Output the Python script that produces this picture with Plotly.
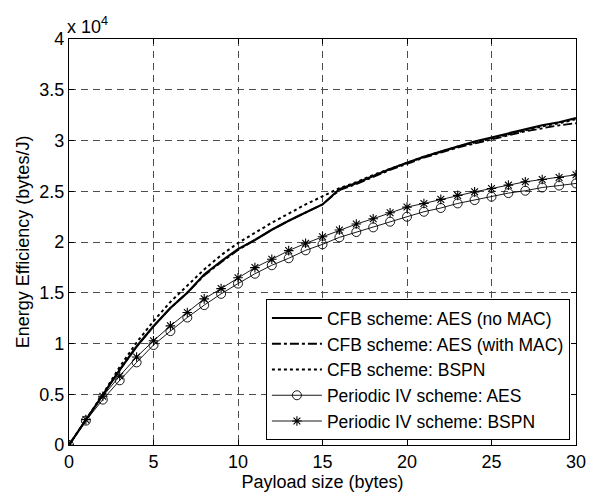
import plotly.graph_objects as go

# Payload sizes (bytes)
payload = list(range(0, 31))

# Energy efficiency, in units of 1e4 bytes/J
cfb_aes_nomac = [0, 0.25, 0.49, 0.74, 0.97, 1.17, 1.35, 1.50, 1.68, 1.81, 1.93,
                 2.02, 2.12, 2.21, 2.29, 2.37, 2.52, 2.58, 2.65, 2.72, 2.78,
                 2.84, 2.89, 2.94, 2.99, 3.03, 3.07, 3.11, 3.15, 3.18, 3.22]
cfb_aes_mac = [0, 0.25, 0.49, 0.74, 0.97, 1.17, 1.35, 1.50, 1.67, 1.80, 1.92,
               2.02, 2.12, 2.21, 2.29, 2.37, 2.51, 2.57, 2.64, 2.71, 2.77,
               2.83, 2.88, 2.93, 2.97, 3.01, 3.05, 3.09, 3.12, 3.15, 3.17]
cfb_bspn = [0, 0.25, 0.50, 0.77, 1.01, 1.22, 1.41, 1.57, 1.73, 1.87, 1.99,
            2.09, 2.19, 2.28, 2.37, 2.45, 2.53, 2.59, 2.66, 2.72, 2.78,
            2.84, 2.89, 2.94, 2.98, 3.02, 3.06, 3.10, 3.14, 3.17, 3.21]
piv_aes = [0, 0.24, 0.447, 0.637, 0.814, 0.985, 1.122, 1.256, 1.378, 1.489, 1.59,
           1.687, 1.771, 1.84, 1.918, 1.977, 2.046, 2.098, 2.144, 2.2, 2.249,
           2.298, 2.335, 2.38, 2.413, 2.446, 2.482, 2.505, 2.537, 2.556, 2.577]
piv_bspn = [0, 0.25, 0.48, 0.68, 0.867, 1.027, 1.174, 1.305, 1.44, 1.541, 1.648,
            1.748, 1.83, 1.915, 1.987, 2.052, 2.118, 2.177, 2.229, 2.288, 2.344,
            2.38, 2.42, 2.459, 2.494, 2.527, 2.56, 2.593, 2.616, 2.636, 2.662]

x_ticks = [0, 5, 10, 15, 20, 25, 30]
y_ticks = [0, 0.5, 1, 1.5, 2, 2.5, 3, 3.5, 4]
y_tick_text = ["0", "0.5", "1", "1.5", "2", "2.5", "3", "3.5", "4"]

FONT = "Liberation Sans, Arial, Helvetica, sans-serif"
TXT = dict(family=FONT, size=18, color="black")

fig = go.Figure()
fig.add_trace(go.Scatter(x=payload, y=cfb_aes_nomac, mode="lines",
                         name="CFB scheme: AES (no MAC)",
                         line=dict(color="black", width=2.2)))
fig.add_trace(go.Scatter(x=payload, y=cfb_aes_mac, mode="lines",
                         name="CFB scheme: AES (with MAC)",
                         line=dict(color="black", width=1.8, dash="dashdot")))
fig.add_trace(go.Scatter(x=payload, y=cfb_bspn, mode="lines",
                         name="CFB scheme: BSPN",
                         line=dict(color="black", width=2, dash="dot")))
fig.add_trace(go.Scatter(x=payload, y=piv_aes, mode="lines+markers",
                         name="Periodic IV scheme: AES",
                         line=dict(color="black", width=0.9),
                         marker=dict(symbol="circle-open", size=9,
                                     color="black", line=dict(width=0.9))))
fig.add_trace(go.Scatter(x=payload, y=piv_bspn, mode="lines+markers",
                         name="Periodic IV scheme: BSPN",
                         line=dict(color="black", width=0.9),
                         marker=dict(symbol="asterisk-open", size=8,
                                     color="black", line=dict(width=1.1))))

axis_common = dict(
    showline=True, linecolor="black", linewidth=1.2, mirror="ticks",
    ticks="inside", ticklen=5, tickcolor="black",
    showgrid=True, gridcolor="#4d4d4d", gridwidth=1, griddash="7px,5px",
    zeroline=False, tickfont=TXT,
)

fig.update_xaxes(range=[0, 30], tickvals=x_ticks,
                 title=dict(text="Payload size (bytes)", standoff=0, font=TXT),
                 **axis_common)
fig.update_yaxes(range=[0, 4], tickvals=y_ticks, ticktext=y_tick_text,
                 title=dict(text="Energy Efficiency (bytes/J)", standoff=4,
                            font=TXT),
                 **axis_common)

fig.add_annotation(text="x 10<sup>4</sup>", xref="paper", yref="paper",
                   x=0, y=1, xanchor="left", yanchor="bottom", showarrow=False,
                   font=dict(family=FONT, size=18, color="black"), xshift=-4)

fig.update_layout(
    width=598, height=497,
    margin=dict(l=69, r=12, t=39, b=52),
    paper_bgcolor="white", plot_bgcolor="white",
    font=TXT,
    legend=dict(x=0.988, y=0.012, xanchor="right", yanchor="bottom",
                bgcolor="white", bordercolor="black", borderwidth=1,
                font=dict(family=FONT, size=17.5, color="black"),
                tracegroupgap=0, itemwidth=50),
    showlegend=True,
)

fig.write_html("out.html")
